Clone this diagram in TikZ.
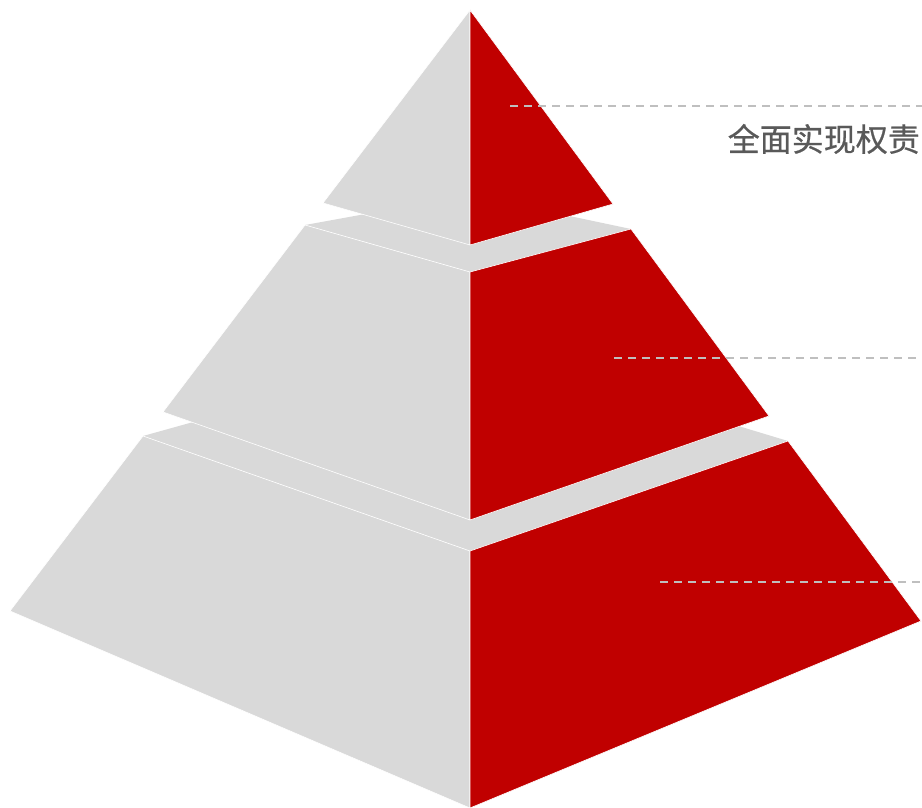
\documentclass[tikz,border=0pt]{standalone}
\usepackage{fontspec}
\newfontfamily\cjk[FakeBold=0.6]{Noto Sans CJK SC}
\definecolor{facegray}{HTML}{D9D9D9}
\definecolor{facered}{HTML}{C00000}
\definecolor{dashgray}{HTML}{BFBFBF}
\definecolor{textgray}{HTML}{595959}
\begin{document}
\begin{tikzpicture}[x=1pt,y=-1pt,
  leftface/.style={fill=facegray,draw=white,line width=0.6pt,line join=round},
  rightface/.style={fill=facered,draw=white,line width=0.6pt,line join=round},
  topface/.style={fill=facegray,draw=none},
  guide/.style={draw=dashgray,line width=1.8pt,dash pattern=on 8pt off 6pt},
  label/.style={font=\cjk\fontsize{32}{36}\selectfont,text=textgray,inner sep=0pt}]
\useasboundingbox (0,0) rectangle (922,808);
% bottom tier
\fill[topface] (143,436) -- (470,345) -- (788,441) -- (470,551) -- cycle;
\draw[leftface] (143,436) -- (470,551) -- (470,808) -- (10,611) -- cycle;
\draw[rightface] (470,551) -- (788,441) -- (921,621) -- (470,808) -- cycle;
% middle tier
\fill[topface] (305,225) -- (470,195) -- (631,229) -- (470,272) -- cycle;
\draw[leftface] (305,225) -- (470,272) -- (470,520) -- (163,412) -- cycle;
\draw[rightface] (470,272) -- (631,229) -- (769,416) -- (470,520) -- cycle;
% top tier
\draw[leftface] (470,10) -- (470,245) -- (323,203) -- cycle;
\draw[rightface] (470,10) -- (613,204) -- (470,245) -- cycle;
% guide lines
\coordinate (g1a) at (510,106); \coordinate (g1b) at (922,106);
\coordinate (g2a) at (614,358); \coordinate (g2b) at (918,358);
\coordinate (g3a) at (660,582); \coordinate (g3b) at (922,582);
\draw[guide] (g1a) -- (g1b);
\draw[guide] (g2a) -- (g2b);
\draw[guide] (g3a) -- (g3b);
\node[label,anchor=east] (t1) at (920,139) {全面实现权责};
\end{tikzpicture}
\end{document}
